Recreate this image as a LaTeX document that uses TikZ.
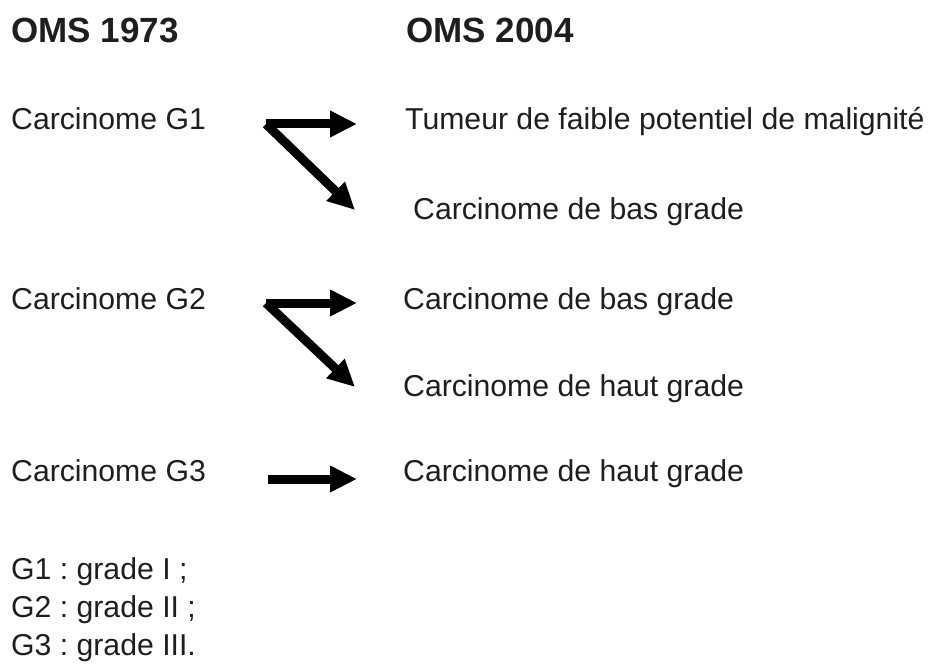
\documentclass[tikz,border=0pt]{standalone}
\usepackage{fontspec}
\setmainfont{Liberation Sans}
\usetikzlibrary{arrows.meta}
\definecolor{ink}{HTML}{1E1E1E}
\tikzset{
  body/.style={anchor=base west, inner sep=0pt, text=ink, font=\fontsize{30.2}{36}\selectfont},
  head/.style={anchor=base west, inner sep=0pt, text=ink, font=\bfseries\fontsize{35}{42}\selectfont},
  bigarrow/.style={draw=black, line width=9pt, line cap=butt, line join=miter,
    -{Triangle[length=27pt,width=25pt]}}
}
\frenchspacing
\begin{document}
\begin{tikzpicture}[x=1pt,y=-1pt]
\useasboundingbox (0,0) rectangle (934,668);
% headings
\node[head] (h1) at (11,43) {OMS 1973};
\node[head] (h2) at (406,43) {OMS 2004};
% left column
\node[body] (g1) at (11,130) {Carcinome G1};
\node[body] (g2) at (11,309) {Carcinome G2};
\node[body] (g3) at (11,481) {Carcinome G3};
% right column
\node[body] (r1a) at (405,130) {Tumeur de faible potentiel de malignité};
\node[body] (r1b) at (413,220) {Carcinome de bas grade};
\node[body] (r2a) at (403,309) {Carcinome de bas grade};
\node[body] (r2b) at (403,396) {Carcinome de haut grade};
\node[body] (r3) at (403,481) {Carcinome de haut grade};
% legend
\node[body] (l1) at (11,579) {G1 : grade I ;};
\node[body] (l2) at (11,617) {G2 : grade II ;};
\node[body] (l3) at (11,655) {G3 : grade III.};
% arrow points
\coordinate (s1) at (266,124);
\coordinate (t1a) at (357,124);
\coordinate (t1b) at (355,210);
\coordinate (s2) at (266,303);
\coordinate (t2a) at (357,303);
\coordinate (t2b) at (355,387);
\coordinate (s3) at (268,479);
\coordinate (t3) at (357,479);
% arrows
\draw[bigarrow] (s1) -- (t1a);
\draw[bigarrow] (s1) -- (t1b);
\draw[bigarrow] (s2) -- (t2a);
\draw[bigarrow] (s2) -- (t2b);
\draw[bigarrow] (s3) -- (t3);
\end{tikzpicture}
\end{document}
